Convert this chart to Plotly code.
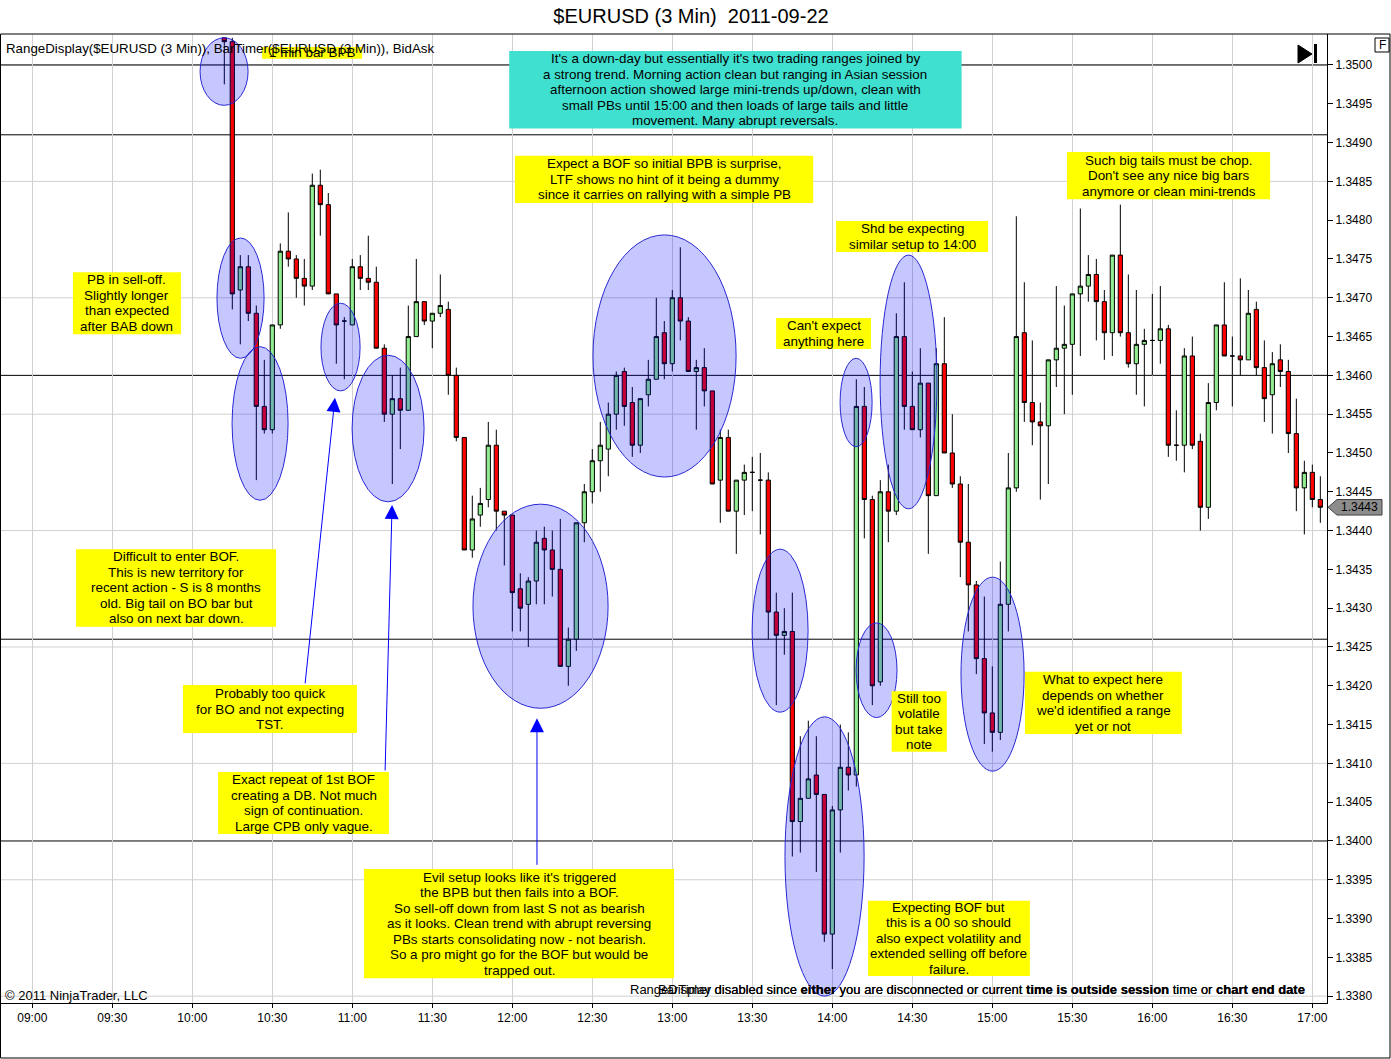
import pandas as pd
import plotly.graph_objects as go

# $EURUSD 3 min bars, 2011-09-22
first_bar = "2011-09-22 10:12"
opens = [
    1.35035, 1.3503, 1.3471, 1.3474, 1.3468, 1.3456, 1.3453, 1.34665, 1.3476, 1.3475,
    1.34725, 1.34715, 1.34845, 1.3482, 1.34705, 1.3467, 1.34665, 1.3474, 1.34725, 1.3472,
    1.34635, 1.3455, 1.3457, 1.34555, 1.3465, 1.34695, 1.3467, 1.3468, 1.34685, 1.346,
    1.3452, 1.34375, 1.3442, 1.3444, 1.3451, 1.34425, 1.3442, 1.34325, 1.34305, 1.34335,
    1.3439, 1.34375, 1.3435, 1.34225, 1.3426, 1.3441, 1.3445, 1.3449, 1.34505, 1.3455,
    1.34605, 1.34565, 1.3451, 1.34575, 1.34595, 1.34655, 1.34615, 1.347, 1.3467, 1.34605,
    1.3461, 1.3458, 1.34465, 1.3452, 1.34425, 1.34465, 1.34475, 1.34465, 1.34465, 1.34295,
    1.34265, 1.3427, 1.34025, 1.34055, 1.34085, 1.3406, 1.3388, 1.3404, 1.34095, 1.34085,
    1.3456, 1.3444, 1.34205, 1.3445, 1.34425, 1.3465, 1.3456, 1.3453, 1.3459, 1.34445,
    1.34615, 1.345, 1.3446, 1.34385, 1.3433, 1.34235, 1.34165, 1.3414, 1.34305, 1.34455,
    1.34655, 1.34565, 1.3454, 1.34535, 1.3462, 1.34635, 1.3464, 1.34705, 1.34715, 1.3473,
    1.34695, 1.34655, 1.34755, 1.34655, 1.34615, 1.3464, 1.34645, 1.34645, 1.3466, 1.3451,
    1.3451, 1.34625, 1.34515, 1.3443, 1.34565, 1.34665, 1.34625, 1.34625, 1.3462, 1.34685,
    1.3461, 1.34575, 1.3462, 1.34605, 1.34525, 1.34455, 1.34475, 1.3444,
]
highs = [
    1.35035, 1.35035, 1.34755, 1.34755, 1.3469, 1.3462, 1.34665, 1.3477, 1.3481, 1.34755,
    1.3475, 1.3486, 1.34865, 1.34835, 1.34705, 1.34675, 1.3475, 1.34755, 1.3478, 1.3474,
    1.3464, 1.346, 1.3461, 1.3469, 1.3475, 1.34695, 1.3468, 1.3473, 1.34695, 1.3461,
    1.3452, 1.34445, 1.34455, 1.3454, 1.3453, 1.34425, 1.3442, 1.34345, 1.3434, 1.344,
    1.34405, 1.344, 1.34415, 1.34275, 1.3441, 1.3446, 1.34505, 1.3454, 1.34565, 1.34605,
    1.3461, 1.34585, 1.3457, 1.3462, 1.347, 1.3467, 1.3471, 1.34765, 1.34675, 1.3462,
    1.34635, 1.3458, 1.3453, 1.3453, 1.34465, 1.34485, 1.34495, 1.345, 1.34475, 1.3432,
    1.343, 1.3432, 1.34135, 1.34155, 1.34135, 1.3406, 1.34045, 1.3415, 1.3414, 1.34595,
    1.34585, 1.34445, 1.34465, 1.34485, 1.3468, 1.3472, 1.34605, 1.34635, 1.3459, 1.34635,
    1.34675, 1.3455, 1.3447, 1.3446, 1.34335, 1.34315, 1.34225, 1.3436, 1.345, 1.34805,
    1.3472, 1.34645, 1.34565, 1.3462, 1.34715, 1.3469, 1.34705, 1.34815, 1.34755, 1.3475,
    1.3471, 1.34755, 1.3482, 1.3473, 1.3471, 1.3466, 1.34705, 1.34715, 1.34665, 1.34555,
    1.34635, 1.3465, 1.34525, 1.3459, 1.34665, 1.3472, 1.3465, 1.34725, 1.3471, 1.34695,
    1.34645, 1.3463, 1.3464, 1.3462, 1.3457, 1.3449, 1.34485, 1.3447,
]
lows = [
    1.34975, 1.34685, 1.3464, 1.3467, 1.34465, 1.34525, 1.34525, 1.3466, 1.3474, 1.347,
    1.3469, 1.3471, 1.3478, 1.34705, 1.34615, 1.34595, 1.34665, 1.3471, 1.3471, 1.34635,
    1.3454, 1.3446, 1.34505, 1.34555, 1.3465, 1.34665, 1.34635, 1.34675, 1.34575, 1.34515,
    1.34375, 1.34365, 1.34405, 1.3443, 1.344, 1.34355, 1.3427, 1.3427, 1.3425, 1.34305,
    1.34305, 1.34315, 1.34225, 1.342, 1.34245, 1.34385, 1.34435, 1.3445, 1.3447, 1.3453,
    1.34535, 1.34495, 1.345, 1.3456, 1.34595, 1.34595, 1.34605, 1.34645, 1.34605, 1.3453,
    1.3456, 1.3446, 1.3441, 1.34425, 1.3437, 1.3442, 1.34425, 1.34395, 1.3426, 1.34175,
    1.3424, 1.3398, 1.33985, 1.34055, 1.3396, 1.3387, 1.33835, 1.33985, 1.34065, 1.3407,
    1.3439, 1.34175, 1.342, 1.34385, 1.3442, 1.3453, 1.3453, 1.3452, 1.3437, 1.34445,
    1.345, 1.34455, 1.3434, 1.3427, 1.34215, 1.34125, 1.34115, 1.3413, 1.3427, 1.3445,
    1.3454, 1.3451, 1.3444, 1.3446, 1.34585, 1.3455, 1.34575, 1.34625, 1.34695, 1.34645,
    1.3462, 1.34625, 1.3465, 1.3461, 1.34575, 1.3456, 1.346, 1.34615, 1.34495, 1.3449,
    1.34475, 1.34505, 1.344, 1.34415, 1.34555, 1.34625, 1.3456, 1.346, 1.3462, 1.346,
    1.3454, 1.34525, 1.34585, 1.345, 1.34425, 1.34395, 1.3443, 1.3441,
]
closes = [
    1.3503, 1.34705, 1.3474, 1.3468, 1.3456, 1.3453, 1.34665, 1.3476, 1.3475, 1.34725,
    1.34715, 1.34845, 1.3482, 1.34705, 1.34665, 1.3467, 1.3474, 1.34725, 1.3472, 1.34635,
    1.3455, 1.3457, 1.34555, 1.3465, 1.34695, 1.3467, 1.3468, 1.3469, 1.346, 1.3452,
    1.34375, 1.34415, 1.34435, 1.3451, 1.34425, 1.3442, 1.3432, 1.343, 1.34335, 1.34385,
    1.34375, 1.3435, 1.34225, 1.3426, 1.3441, 1.3445, 1.3449, 1.3451, 1.3455, 1.346,
    1.3456, 1.3451, 1.3457, 1.34595, 1.3465, 1.34615, 1.347, 1.3467, 1.34605, 1.3461,
    1.3458, 1.3446, 1.3452, 1.34425, 1.34465, 1.34475, 1.34475, 1.34465, 1.34295, 1.34265,
    1.3427, 1.34025, 1.34055, 1.3408, 1.3406, 1.3388, 1.3404, 1.34095, 1.34085, 1.3456,
    1.3444, 1.342, 1.3445, 1.34425, 1.3465, 1.3456, 1.3453, 1.3459, 1.34445, 1.34615,
    1.345, 1.3446, 1.34385, 1.3433, 1.34235, 1.34165, 1.3414, 1.34305, 1.34455, 1.3465,
    1.34565, 1.3454, 1.34535, 1.3462, 1.34635, 1.3464, 1.34705, 1.34715, 1.3473, 1.34695,
    1.34655, 1.34755, 1.34655, 1.34615, 1.3464, 1.34645, 1.34645, 1.3466, 1.3451, 1.3451,
    1.34625, 1.3451, 1.3443, 1.34565, 1.34665, 1.34625, 1.34625, 1.3462, 1.3468, 1.3461,
    1.3457, 1.34615, 1.34605, 1.34525, 1.34455, 1.34475, 1.3444, 1.3443,
]
times = pd.date_range(first_bar, periods=len(opens), freq="3min")

levels = [1.3500, 1.3491, 1.3460, 1.3426, 1.3400]   # drawn horizontal lines
last_price = 1.3443
day = "2011-09-22 "

# chart notes: start, end, top price, bottom price, text, colour
notes = [
    ("09:15:15", "09:55:45", 1.34733, 1.34653,
     "PB in sell-off.<br>Slightly longer<br>than expected<br>after BAB down", "#ffff00"),
    ("09:16:25", "10:31:25", 1.34376, 1.34276,
     "Difficult to enter BOF.<br>This is new territory for<br>recent action - S is 8 months<br>"
     "old. Big tail on BO bar but<br>also on next bar down.", "#ffff00"),
    ("09:56:30", "11:01:45", 1.34201, 1.34139,
     "Probably too quick<br>for BO and not expecting<br>TST.", "#ffff00"),
    ("10:09:40", "11:13:45", 1.34089, 1.34009,
     "Exact repeat of 1st BOF<br>creating a DB. Not much<br>sign of continuation.<br>"
     "Large CPB only vague.", "#ffff00"),
    ("11:04:25", "13:00:40", 1.33964, 1.33823,
     "Evil setup looks like it's triggered<br>the BPB but then fails into a BOF.<br>"
     "So sell-off down from last S not as bearish<br>as it looks. Clean trend with abrupt reversing<br>"
     "PBs starts consolidating now - not bearish.<br>So a pro might go for the BOF but would be<br>"
     "trapped out.", "#ffff00"),
    ("11:58:50", "14:48:30", 1.35018, 1.34918,
     "It's a down-day but essentially it's two trading ranges joined by<br>"
     "a strong trend. Morning action clean but ranging in Asian session<br>"
     "afternoon action showed large mini-trends up/down, clean with<br>"
     "small PBs until 15:00 and then loads of large tails and little<br>"
     "movement. Many abrupt reversals.", "#40e0d0"),
    ("12:01:00", "13:52:50", 1.34883, 1.34822,
     "Expect a BOF so initial BPB is surprise,<br>LTF shows no hint of it being a dummy<br>"
     "since it carries on rallying with a simple PB", "#ffff00"),
    ("14:01:25", "14:58:25", 1.34799, 1.34759,
     "Shd be expecting<br>similar setup to 14:00", "#ffff00"),
    ("13:38:55", "14:14:30", 1.34674, 1.34634,
     "Can't expect<br>anything here", "#ffff00"),
    ("14:22:15", "14:42:55", 1.34193, 1.34115,
     "Still too<br>volatile<br>but take<br>note", "#ffff00"),
    ("15:12:15", "16:11:05", 1.34218, 1.34138,
     "What to expect here<br>depends on whether<br>we'd identified a range<br>yet or not", "#ffff00"),
    ("14:13:25", "15:14:05", 1.33923, 1.33826,
     "Expecting BOF but<br>this is a 00 so should<br>also expect volatility and<br>"
     "extended selling off before<br>failure.", "#ffff00"),
    ("15:28:00", "16:44:10", 1.34888, 1.34827,
     "Such big tails must be chop.<br>Don't see any nice big bars<br>anymore or clean mini-trends", "#ffff00"),
    ("10:26:10", "11:03:40", 1.35023, 1.35008, "1 min bar BPB", "#ffff00"),
]

# ellipses: start, end, top price, bottom price
ellipses = [
    ("10:02:55", "10:20:55", 1.35035, 1.34948),
    ("10:09:15", "10:26:55", 1.34777, 1.34622),
    ("10:14:55", "10:35:55", 1.34637, 1.34439),
    ("10:48:15", "11:02:55", 1.34693, 1.34580),
    ("10:59:55", "11:26:55", 1.34626, 1.34437),
    ("11:45:15", "12:35:55", 1.34434, 1.34171),
    ("12:30:15", "13:23:55", 1.34781, 1.34469),
    ("13:29:55", "13:50:55", 1.34376, 1.34166),
    ("13:42:15", "14:11:55", 1.34160, 1.33800),
    ("14:02:55", "14:14:55", 1.34622, 1.34508),
    ("14:08:55", "14:24:15", 1.34281, 1.34159),
    ("14:17:55", "14:39:15", 1.34755, 1.34428),
    ("14:48:15", "15:11:55", 1.34340, 1.34090),
]

# arrows: tip time, tip price, tail offset in px
arrows = [
    ("10:53:30", 1.34571, -30, 287),
    ("11:14:55", 1.34433, -7, 267),
    ("12:09:15", 1.34158, 0, 148),
]

# plot area in pixels, used for the NinjaTrader window decorations
L, R, T, B = 1, 1327, 34, 1003


def px(x):
    return (x - L) / (R - L)


def py(y):
    return (B - y) / (B - T)


FONT = "Liberation Sans, Arial, sans-serif"
NOTE_SIZE = 13.4
LINE_GAP = 15.5   # px between note lines, tighter than plotly's own <br> spacing

fig = go.Figure()
fig.add_trace(go.Candlestick(
    x=times, open=opens, high=highs, low=lows, close=closes,
    increasing=dict(fillcolor="#90ee90", line=dict(color="black", width=1)),
    decreasing=dict(fillcolor="#ff0000", line=dict(color="black", width=1)),
    whiskerwidth=0, showlegend=False, hoverinfo="skip",
))

shapes = []
# horizontal grid every 15 pips
for k in range(9):
    g = 1.3380 + 0.0015 * k
    shapes.append(dict(type="line", xref="x domain", yref="y", x0=0, x1=1, y0=g, y1=g,
                       line=dict(color="#d0d0d0", width=1), layer="below"))
for lv in levels:
    shapes.append(dict(type="line", xref="x domain", yref="y", x0=0, x1=1, y0=lv, y1=lv,
                       line=dict(color="black", width=1), layer="below"))
for t0, t1, p0, p1 in ellipses:
    shapes.append(dict(type="circle", xref="x", yref="y", x0=day + t0, x1=day + t1, y0=p1, y1=p0,
                       fillcolor="rgba(0,0,255,0.22)", line=dict(color="rgb(40,40,210)", width=1),
                       layer="above"))
for t0, t1, p0, p1, txt, col in notes:
    shapes.append(dict(type="rect", xref="x", yref="y", x0=day + t0, x1=day + t1, y0=p1, y1=p0,
                       fillcolor=col, line=dict(width=0), layer="above"))

# outer window frame, F button, go-to-end icon, last price marker
shapes.append(dict(type="rect", xref="paper", yref="paper", x0=px(0.5), x1=px(1390), y0=py(1058),
                   y1=py(34), line=dict(color="black", width=1), layer="above"))
shapes.append(dict(type="rect", xref="paper", yref="paper", x0=px(1375), x1=px(1389), y0=py(52),
                   y1=py(38), line=dict(color="black", width=1), layer="above"))
shapes.append(dict(type="path", xref="paper", yref="paper",
                   path=f"M{px(1298)},{py(45)} L{px(1298)},{py(63)} L{px(1312)},{py(54)} Z",
                   fillcolor="black", line=dict(color="black", width=1), layer="above"))
shapes.append(dict(type="rect", xref="paper", yref="paper", x0=px(1314), x1=px(1317), y0=py(63),
                   y1=py(44), fillcolor="black", line=dict(width=0), layer="above"))
h = 0.0001
shapes.append(dict(type="path", xref="paper", yref="y",
                   path=(f"M{px(1328)},{last_price} L{px(1337)},{last_price + h} "
                         f"L{px(1382)},{last_price + h} L{px(1382)},{last_price - h} "
                         f"L{px(1337)},{last_price - h} Z"),
                   fillcolor="#8c8c8c", line=dict(color="#404040", width=1), layer="above"))

ann = []
for t0, t1, p0, p1, txt, col in notes:
    mid = pd.Timestamp(day + t0) + (pd.Timestamp(day + t1) - pd.Timestamp(day + t0)) / 2
    lines = txt.split("<br>")
    n = len(lines)
    for j, line in enumerate(lines):
        ann.append(dict(x=mid, y=(p0 + p1) / 2, xref="x", yref="y", text=line, showarrow=False,
                        xanchor="center", yanchor="middle",
                        yshift=((n - 1) / 2 - j) * LINE_GAP,
                        font=dict(family=FONT, size=NOTE_SIZE, color="black")))
for t, p, dx, dy in arrows:
    ann.append(dict(x=day + t, y=p, xref="x", yref="y", text="", showarrow=True, ax=dx, ay=dy,
                    arrowhead=2, arrowsize=2.8, arrowwidth=1, arrowcolor="blue"))

ann.append(dict(x=px(4), y=py(48), xref="paper", yref="paper", xanchor="left", yanchor="middle",
                text="RangeDisplay($EURUSD (3 Min)), BarTimer($EURUSD (3 Min)), BidAsk",
                showarrow=False, font=dict(family=FONT, size=13.3, color="black")))
ann.append(dict(x=px(3), y=py(995), xref="paper", yref="paper", xanchor="left", yanchor="middle",
                text="© 2011 NinjaTrader, LLC", showarrow=False,
                font=dict(family=FONT, size=13, color="black")))
for name in ["RangeDisplay", "BarTimer"]:
    ann.append(dict(x=px(1307), y=py(989), xref="paper", yref="paper", xanchor="right",
                    yanchor="middle", showarrow=False,
                    text=(f"{name} disabled since <b>either</b> you are disconnected or current "
                          "<b>time is outside session</b> time or <b>chart end date</b>"),
                    font=dict(family=FONT, size=13, color="black")))
ann.append(dict(x=px(1382), y=py(45), xref="paper", yref="paper", text="F", showarrow=False,
                xanchor="center", yanchor="middle", font=dict(family=FONT, size=12, color="black")))
ann.append(dict(x=px(1360), y=last_price, xref="paper", yref="y", text=f"{last_price:.4f}",
                showarrow=False, xanchor="center", yanchor="middle",
                font=dict(family=FONT, size=12, color="black")))

fig.update_layout(
    width=1391, height=1059,
    margin=dict(l=L, r=1391 - R, t=T, b=1059 - B),
    paper_bgcolor="white", plot_bgcolor="white",
    title=dict(text="$EURUSD (3 Min) \u00a02011-09-22", x=691 / 1391, y=1 - 16 / 1059,
               xanchor="center", yanchor="middle", font=dict(family=FONT, size=20, color="black")),
    shapes=shapes, annotations=ann,
    showlegend=False, boxgap=0.25,
    font=dict(family=FONT, size=12, color="black"),
)
fig.update_xaxes(
    type="date", range=[day + "08:48:16", day + "17:05:30"],
    tick0=day + "09:00", dtick=30 * 60 * 1000, tickformat="%H:%M",
    showgrid=True, gridcolor="#d0d0d0", gridwidth=1,
    ticks="outside", ticklen=4, tickcolor="black",
    showline=True, linecolor="black", linewidth=1,
    rangeslider=dict(visible=False), zeroline=False,
    tickfont=dict(family=FONT, size=12, color="black"),
)
fig.update_yaxes(
    side="right", range=[1.337912, 1.350399], tick0=1.3380, dtick=0.0005, tickformat=".4f",
    showgrid=False, zeroline=False, ticks="outside", ticklen=5, tickcolor="black",
    showline=True, linecolor="black", linewidth=1,
    tickfont=dict(family=FONT, size=12, color="black"),
)

# the page body has a default 8px margin; drop it so the chart sits at the window corner
fig.write_html("out.html", config={"displayModeBar": False},
               post_script="document.body.style.margin='0';")
